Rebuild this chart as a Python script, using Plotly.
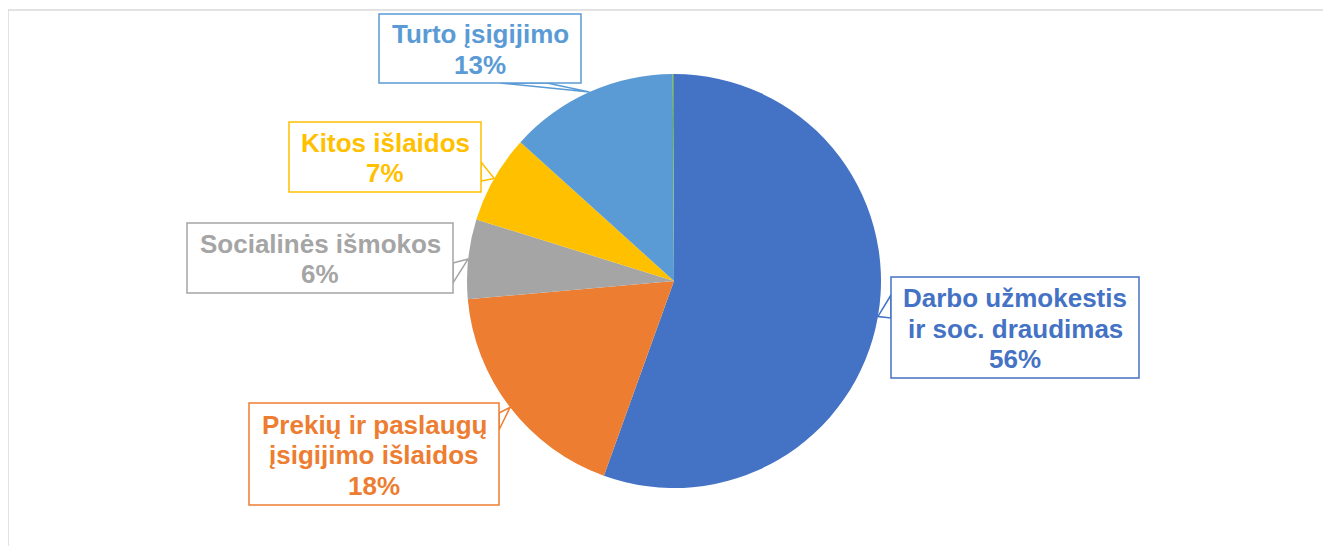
import math
import plotly.graph_objects as go

# ---- data ----
categories = ["Darbo užmokestis<br>ir soc. draudimas",
              "Prekių ir paslaugų<br>įsigijimo išlaidos",
              "Socialinės išmokos",
              "Kitos išlaidos",
              "Turto įsigijimo",
              "Kita"]
values = [55.5, 18.1, 6.2, 6.9, 13.2, 0.1]
pct_labels = ["56%", "18%", "6%", "7%", "13%", ""]
colors = ["#4472C4", "#ED7D31", "#A5A5A5", "#FFC000", "#5B9BD5", "#70AD47"]

W, H = 1331, 546
OFF = 8  # page body margin
CX, CY, R = 674, 281, 207

def px(x):
    return (x - OFF) / W

def py(y):
    return 1 - (y - OFF) / H

fig = go.Figure(go.Pie(
    labels=categories, values=values, sort=False, direction="clockwise",
    rotation=0, marker=dict(colors=colors, line=dict(width=0)),
    textinfo="none", hoverinfo="label+percent", showlegend=False,
    domain=dict(x=[px(CX - R), px(CX + R)], y=[py(CY + R), py(CY - R)]),
))

# callout box layout (pixel): left, top, right, bottom, base points
boxes = [
    dict(x0=891, y0=277, x1=1139, y1=378, base=[(891, 295), (891, 318)]),
    dict(x0=249, y0=403, x1=499, y1=505, base=[(499, 413), (499, 430)]),
    dict(x0=187, y0=223, x1=453, y1=293, base=[(453, 263), (453, 283)]),
    dict(x0=289, y0=122, x1=481, y1=192, base=[(481, 162), (481, 181)]),
    dict(x0=379, y0=14, x1=581, y1=83, base=[(500, 83), (547, 83)]),
]
LINE_H = 30.5
FS = 26

total = sum(values)
shapes = []
annotations = []
cum = 0
for i, v in enumerate(values):
    mid = (cum + v / 2) / total * 2 * math.pi
    cum += v
    if i >= len(boxes):
        continue
    b = boxes[i]
    tx = CX + R * math.sin(mid)
    ty = CY - R * math.cos(mid)
    (bx1, by1), (bx2, by2) = b["base"]
    path = f"M {px(bx1)} {py(by1)} L {px(tx)} {py(ty)} L {px(bx2)} {py(by2)} Z"
    shapes.append(dict(type="path", xref="paper", yref="paper", path=path,
                       line=dict(color=colors[i], width=1.5), fillcolor="white",
                       layer="above"))
    shapes.append(dict(type="rect", xref="paper", yref="paper",
                       x0=px(b["x0"]), x1=px(b["x1"]),
                       y0=py(b["y1"]), y1=py(b["y0"]),
                       line=dict(color=colors[i], width=1.5), fillcolor="white",
                       layer="above"))
    lines = categories[i].split("<br>") + [pct_labels[i]]
    n = len(lines)
    ccx = (b["x0"] + b["x1"]) / 2
    ccy = (b["y0"] + b["y1"]) / 2 + 1
    for k, t in enumerate(lines):
        ly = ccy + (k - (n - 1) / 2) * LINE_H
        annotations.append(dict(
            xref="paper", yref="paper", x=px(ccx), y=py(ly),
            xanchor="center", yanchor="middle", showarrow=False,
            text=f"<b>{t}</b>",
            font=dict(family="Liberation Sans, Arial, sans-serif", size=FS,
                      color=colors[i]),
        ))

# outer chart frame (top and left edges visible)
shapes.append(dict(type="path", xref="paper", yref="paper",
                   path=f"M {px(8)} {py(560)} L {px(8)} {py(10)} L {px(1345)} {py(10)}",
                   line=dict(color="#D9D9D9", width=1.5), layer="below"))

fig.update_layout(
    width=W, height=H, margin=dict(l=0, r=0, t=0, b=0),
    paper_bgcolor="white", plot_bgcolor="white",
    shapes=shapes, annotations=annotations,
)

fig.write_html("out.html")
